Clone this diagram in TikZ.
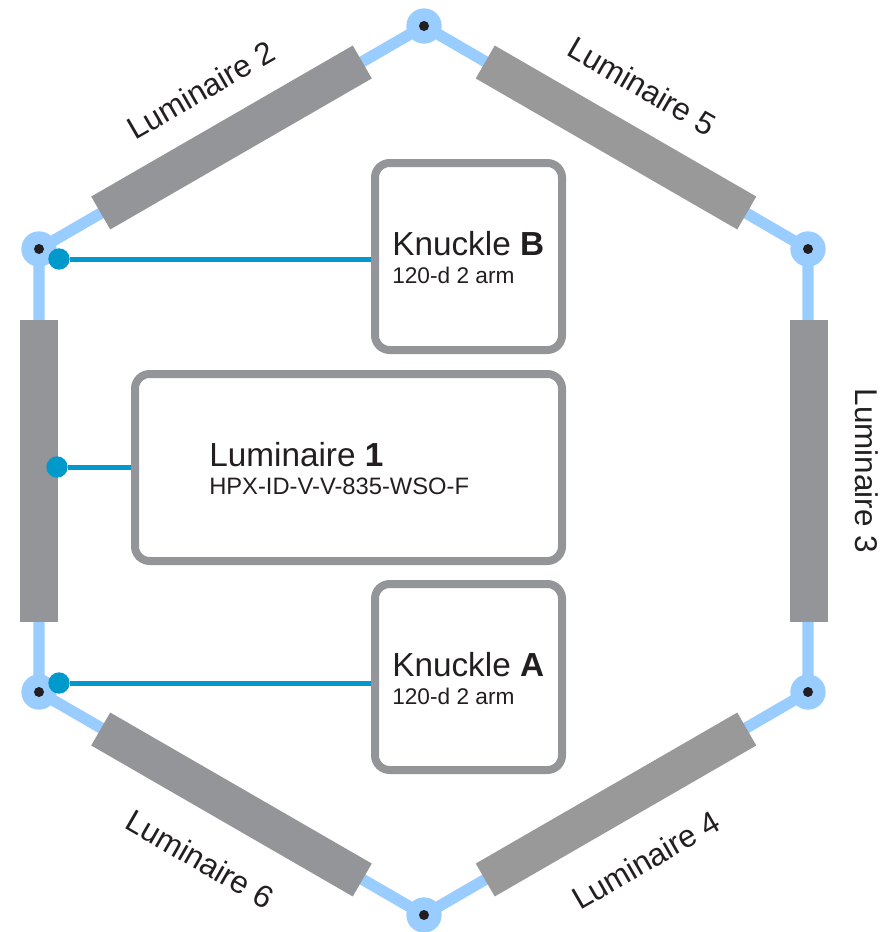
\documentclass[tikz,border=0pt]{standalone}
\usepackage{fontspec}
\setmainfont{Liberation Sans}
\usetikzlibrary{calc}
\usetikzlibrary{positioning}
\definecolor{barGray}{HTML}{939598}
\definecolor{barGrayB}{HTML}{999999}
\definecolor{armBlue}{HTML}{99CCFF}
\definecolor{linkTeal}{HTML}{0099CC}
\definecolor{pinBlack}{HTML}{231F20}
\definecolor{textBlack}{HTML}{231F20}
\tikzset{
	arm/.style={draw=armBlue, line width=8.5pt},
	hinge/.style={circle, fill=armBlue, minimum size=26.5pt, inner sep=0pt},
	pin/.style={circle, fill=pinBlack, minimum size=7.5pt, inner sep=0pt},
	bar/.style={fill=barGray, minimum width=226.5pt, minimum height=28.5pt, inner sep=0pt},
	infobox/.style={draw=barGray, line width=6pt, rounded corners=11pt, fill=white, inner sep=0pt},
	linkdot/.style={circle, fill=linkTeal, minimum size=16pt, inner sep=0pt},
	link/.style={draw=linkTeal, line width=3.75pt},
	lumlabel/.style={font=\fontsize{23.6}{26}\selectfont, text=textBlack, inner sep=0pt},
	boxtitle/.style={font=\fontsize{25}{28}\selectfont, text=textBlack, inner sep=0pt, anchor=base west},
	boxsub/.style={font=\fontsize{17}{20}\selectfont, text=textBlack, inner sep=0pt, anchor=base west},
}
\begin{document}
\begin{tikzpicture}[x=0.75pt, y=-0.75pt]
	\useasboundingbox (0,0) rectangle (879,932);
	
	% Hinges of the hexagon
	\coordinate (top) at (424,26);
	\coordinate (tr) at (808,249);
	\coordinate (br) at (808,692);
	\coordinate (bot) at (424,915);
	\coordinate (bl) at (39,692);
	\coordinate (tl) at (39,249);
	
	% Arms
	\draw[arm] (top) -- (tr) -- (br) -- (bot) -- (bl) -- (tl) -- cycle;
	\foreach \h in {top,tr,br,bot,bl,tl} {
		\node[hinge] (\h-hinge) at (\h) {};
		\node[pin] (\h-pin) at (\h) {};
	}
	
	% Luminaire bars
	\node[bar, rotate=90] (lum1) at (39,471) {};
	\node[bar, rotate=30] (lum2) at (231.5,137.5) {};
	\node[bar, rotate=90] (lum3) at (809,471) {};
	\node[bar, fill=barGrayB, rotate=-30] (lum5) at (616,137.5) {};
	\node[bar, fill=barGrayB, rotate=30] (lum4) at (616,804.5) {};
	\node[bar, rotate=-30] (lum6) at (231.5,804.5) {};
	
	% Bar labels
	\node[lumlabel, rotate=30] (lab2) at (201,90) {Luminaire 2};
	\node[lumlabel, rotate=-30] (lab5) at (642,86) {Luminaire 5};
	\node[lumlabel, rotate=-90] (lab3) at (866.5,471) {Luminaire 3};
	\node[lumlabel, rotate=30] (lab4) at (646,860) {Luminaire 4};
	\node[lumlabel, rotate=-30] (lab6) at (200,859) {Luminaire 6};
	
	% Info boxes
	\node[infobox, minimum width=140.25pt, minimum height=140.25pt] (boxb) at (468.5,256.5) {};
	\node[infobox, minimum width=320.25pt, minimum height=140.25pt] (boxl) at (348.5,467.5) {};
	\node[infobox, minimum width=140.25pt, minimum height=139.5pt] (boxa) at (468.5,677) {};
	
	\node[boxtitle] (titleb) at (392,255) {Knuckle \textbf{B}};
	\node[boxsub, below=9pt of titleb.base west, anchor=north west] (subb) {120-d 2 arm};
	\node[boxtitle] (titlel) at (209,466) {Luminaire \textbf{1}};
	\node[boxsub, font=\fontsize{17.8}{20}\selectfont, below=9pt of titlel.base west, anchor=north west] (subl) {HPX-ID-V-V-835-WSO-F};
	\node[boxtitle] (titlea) at (392,676) {Knuckle \textbf{A}};
	\node[boxsub, below=9pt of titlea.base west, anchor=north west] (suba) {120-d 2 arm};
	
	% Links from the boxes to the parts
	\node[linkdot] (dotb) at (59,259) {};
	\node[linkdot] (dotl) at (57,467) {};
	\node[linkdot] (dota) at (59,683) {};
	\draw[link] (dotb) -- (dotb -| boxb.west);
	\draw[link] (dotl) -- (dotl -| boxl.west);
	\draw[link] (dota) -- (dota -| boxa.west);
\end{tikzpicture}
\end{document}
